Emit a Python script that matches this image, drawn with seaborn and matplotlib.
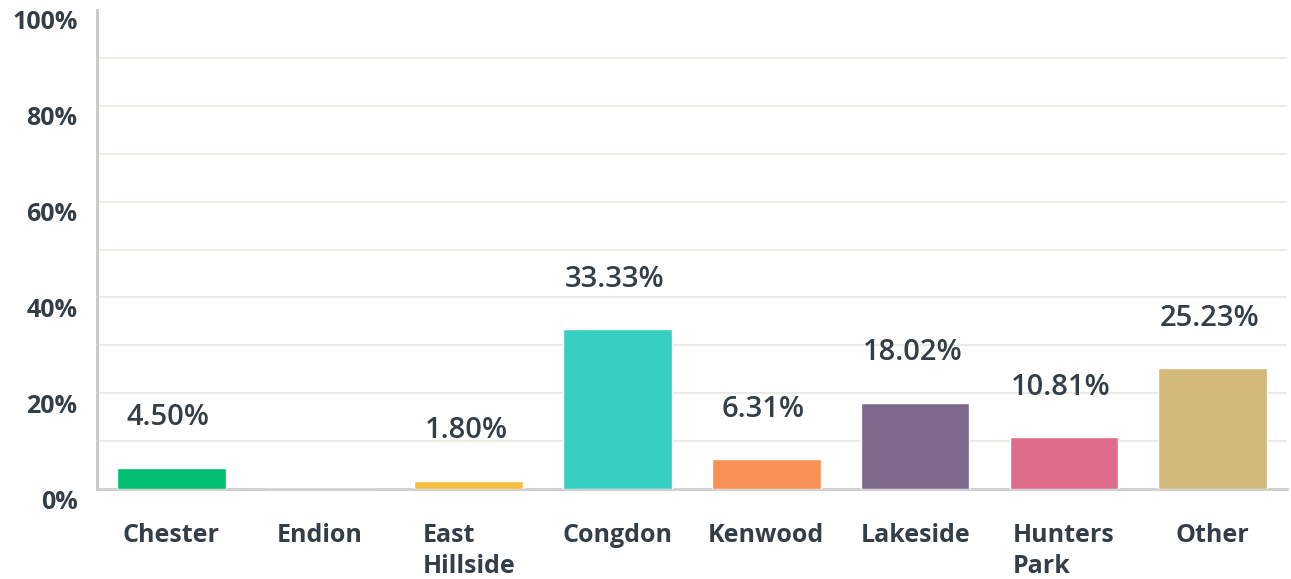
"""Neighborhood share bar chart."""
import numpy as np
import pandas as pd
import matplotlib
matplotlib.use("Agg")
import matplotlib.pyplot as plt
import matplotlib.transforms as mtransforms
import seaborn as sns

CATEGORIES = ["Chester", "Endion", "East\nHillside", "Congdon", "Kenwood",
              "Lakeside", "Hunters\nPark", "Other"]
VALUES = [4.50, 0.00, 1.80, 33.33, 6.31, 18.02, 10.81, 25.23]
COLORS = ["#00BF6F", "#6BC8CD", "#F5BE40", "#36CFC1", "#F99157",
          "#7E6A8C", "#E06C8B", "#D3BA7B"]
YTICKS = [0, 20, 40, 60, 80, 100]
TEXT = "#333E48"

sns.set_style("white")
plt.rcParams["font.family"] = ["Open Sans", "DejaVu Sans"]

df = pd.DataFrame({"area": CATEGORIES, "pct": VALUES})

fig, ax = plt.subplots(figsize=(12.91, 5.79), dpi=100)
fig.subplots_adjust(left=0.075, right=0.997, top=0.983, bottom=0.155)

sns.barplot(data=df, x="area", y="pct", hue="area", palette=COLORS,
            legend=False, width=0.73, saturation=1, ax=ax, zorder=3)

for i, v in enumerate(VALUES):
    if v > 0:
        ax.annotate(f"{v:.2f}%", (i, v), xytext=(-2, 36), textcoords="offset points",
                    ha="center", va="center", fontsize=21, fontweight="semibold",
                    color=TEXT)

ax.set_xlim(-0.5, 7.5)
ax.set_ylim(0, 100)
ax.set_yticks(YTICKS)
ax.set_yticks(np.arange(10, 100, 20), minor=True)
ax.set_yticklabels([f"{t}%" for t in YTICKS], fontsize=18, fontweight="bold", color=TEXT)
ax.grid(axis="y", which="both", color="#EBEBE6", linewidth=1.5, zorder=0)
ax.yaxis.get_major_ticks()[-1].gridline.set_visible(False)
ax.tick_params(axis="both", which="both", length=0)
ax.tick_params(axis="y", pad=14)
ax.tick_params(axis="x", pad=24)
offset = mtransforms.ScaledTranslation(0, -10 / 100, fig.dpi_scale_trans)
for lab in ax.get_yticklabels():
    lab.set_transform(lab.get_transform() + offset)
    lab.set_ha("right")
for lab in ax.get_xticklabels():
    lab.set_fontsize(18)
    lab.set_fontweight("bold")
    lab.set_color(TEXT)
    lab.set_multialignment("left")
    lab.set_va("top")
    lab.set_linespacing(1.35)

ax.set_xlabel("")
ax.set_ylabel("")
for side in ["top", "right"]:
    ax.spines[side].set_visible(False)
ax.spines["left"].set_color("#C8C8C8")
ax.spines["bottom"].set_color("#CFCFCF")
ax.spines["left"].set_linewidth(2)
ax.spines["bottom"].set_linewidth(2)

fig.savefig("out.png", dpi=100)
